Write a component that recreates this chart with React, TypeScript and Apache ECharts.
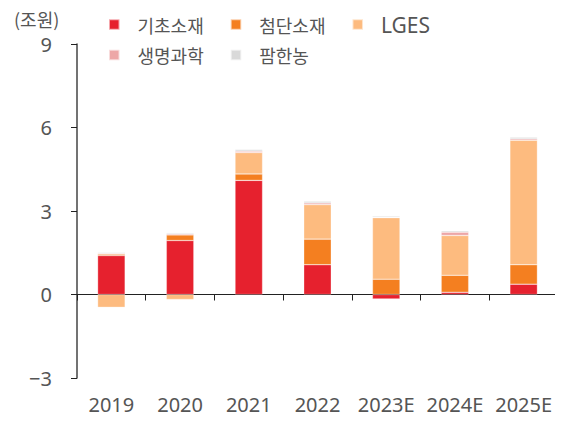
import React, { useEffect, useRef } from "react";
import * as echarts from "echarts";

const categories = ["2019", "2020", "2021", "2022", "2023E", "2024E", "2025E"];
const basic = [1.4, 1.94, 4.1, 1.07, -0.16, 0.08, 0.37];
const advanced = [0.05, 0.2, 0.23, 0.92, 0.55, 0.61, 0.7];
const lges = [-0.46, -0.18, 0.77, 1.24, 2.21, 1.43, 4.47];
const life = [0.03, 0.04, 0.05, 0.06, 0.02, 0.12, 0.05];
const farm = [0.03, 0.04, 0.06, 0.06, 0.04, 0.05, 0.06];
const yTicks = [-3, 0, 3, 6, 9];

const names = ["기초소재", "첨단소재", "LGES", "생명과학", "팜한농"];
const colors = ["#E6212E", "#F47F20", "#FDBB7F", "#EDA7A7", "#D9D9D9"];
const LATIN = "'Noto Sans', sans-serif";
const KR = "'Noto Sans CJK KR', 'Noto Sans', sans-serif";

export default function App() {
  const ref = useRef<HTMLDivElement>(null);
  useEffect(() => {
    if (!ref.current) return;
    const chart = echarts.init(ref.current, undefined, { renderer: "svg" });
    const seriesData = [basic, advanced, lges, life, farm];
    const legendCommon = {
      icon: "rect",
      padding: 0,
      itemWidth: 10.5,
      itemHeight: 10.5,
      itemGap: 26,
      formatter: (n: string) => (n === "LGES" ? "{l|LGES}" : n),
      textStyle: {
        fontSize: 18,
        color: "#555",
        fontFamily: KR,
        padding: [0, 0, 0, 13],
        rich: { l: { fontSize: 21, fontFamily: LATIN, color: "#555" } },
      },
    };
    chart.setOption({
      animation: false,
      textStyle: { fontFamily: KR },
      graphic: [
        {
          type: "text",
          left: 14,
          top: 10,
          style: { text: "(조원)", fontSize: 18, fill: "#555", fontFamily: KR },
        },
      ],
      legend: [
        { ...legendCommon, left: 108, top: 14, data: names.slice(0, 3) },
        { ...legendCommon, left: 108, top: 46, data: names.slice(3) },
      ],
      grid: { left: 77, right: 5, top: 44, bottom: 43, containLabel: false, outerBoundsMode: "none" },
      xAxis: [
        {
          type: "category",
          data: categories,
          position: "bottom",
          axisLine: { show: false, onZero: false },
          axisTick: { show: false },
          axisLabel: { interval: 0, margin: 16, fontSize: 20, color: "#555", fontFamily: LATIN },
        },
        {
          type: "category",
          data: categories,
          position: "bottom",
          axisLine: { show: true, onZero: true, lineStyle: { color: "#222", width: 1 } },
          axisTick: { show: true, length: 6, lineStyle: { color: "#222" } },
          axisLabel: { show: false },
        },
      ],
      yAxis: {
        type: "value",
        min: -3,
        max: 9,
        interval: 3,
        splitLine: { show: false },
        axisLine: { show: true, lineStyle: { color: "#444", width: 1.5 } },
        axisTick: { show: true, length: 6, lineStyle: { color: "#222" } },
        axisLabel: {
          margin: 25,
          fontSize: 20,
          color: "#555",
          fontFamily: LATIN,
          formatter: (v: number) => (yTicks.includes(v) ? (v < 0 ? "−" + Math.abs(v) : String(v)) : ""),
        },
      },
      series: names.map((n, i) => ({
        name: n,
        type: "bar",
        stack: "total",
        barWidth: "40%",
        xAxisIndex: 0,
        data: seriesData[i],
        itemStyle: { color: colors[i], borderColor: "rgba(255,255,255,0.6)", borderWidth: 0.5 },
      })),
    });
    return () => chart.dispose();
  }, []);
  return <div ref={ref} style={{ width: 563, height: 421, margin: -8 }} />;
}
